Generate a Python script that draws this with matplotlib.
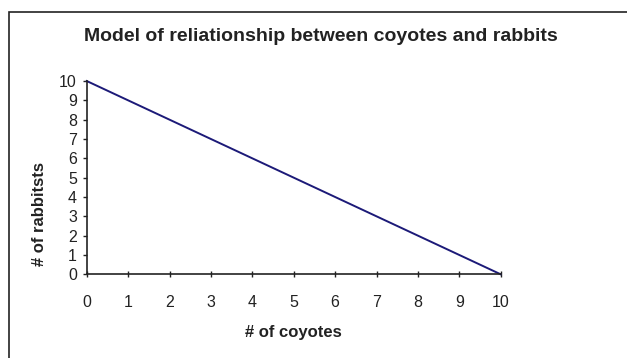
import matplotlib
matplotlib.use("Agg")
import matplotlib.pyplot as plt
from matplotlib.patches import Rectangle

coyotes = [0, 1, 2, 3, 4, 5, 6, 7, 8, 9, 10]
rabbits = [10, 9, 8, 7, 6, 5, 4, 3, 2, 1, 0]
ticks = [0, 1, 2, 3, 4, 5, 6, 7, 8, 9, 10]

plt.rcParams['font.family'] = ['Liberation Sans', 'DejaVu Sans']

W, H = 627, 358
fig = plt.figure(figsize=(W / 100, H / 100), dpi=100)
fig.patch.set_facecolor('white')

# chart-area border: only the left and top edges fall inside the image
fig.patches.append(Rectangle((8.5 / W, -0.2), 2.0, (H - 11.5) / H + 0.2,
                             transform=fig.transFigure, fill=False,
                             edgecolor='#222222', linewidth=1.2, zorder=0))

ax = fig.add_axes([86.7 / W, 1 - 274.3 / H, (500.7 - 86.7) / W, (274.3 - 81) / H])
ax.plot(coyotes, rabbits, color='#1c1a78', linewidth=1.4, clip_on=False)
ax.set_xlim(0, 10)
ax.set_ylim(0, 10)
ax.set_xticks(ticks)
ax.set_yticks(ticks)
ax.tick_params(axis='x', direction='inout', length=4, width=1, labelsize=11.5, pad=13,
               colors='#222222', labelcolor='#222222')
ax.tick_params(axis='y', direction='out', length=3, width=1, labelsize=11.5, pad=4,
               colors='#222222', labelcolor='#222222')
for s in ('top', 'right'):
    ax.spines[s].set_visible(False)
for s in ('left', 'bottom'):
    ax.spines[s].set_color('#222222')
    ax.spines[s].set_linewidth(1.2)

fig.text(293.7 / W, 1 - 333 / H, '# of coyotes', ha='center', va='center',
         fontsize=12, fontweight='bold', color='#222222')
fig.text(40 / W, 1 - 214 / H, '# of rabbitsts', ha='center', va='center', rotation=90,
         fontsize=12, fontweight='bold', color='#222222')
fig.text(321 / W, 1 - 36.5 / H, 'Model of reliationship between coyotes and rabbits',
         ha='center', va='center', fontsize=14, fontweight='bold', color='#222222')

fig.savefig('out.png', dpi=100)
